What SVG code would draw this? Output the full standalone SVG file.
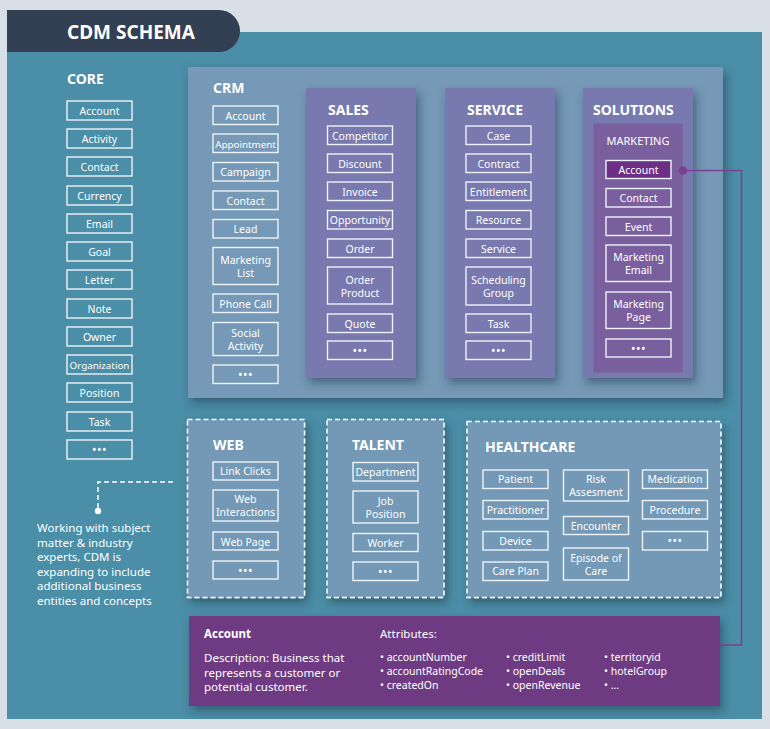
<svg xmlns="http://www.w3.org/2000/svg" width="770" height="729" viewBox="0 0 770 729">
<defs>
<filter id="sh" x="-10%" y="-10%" width="125%" height="125%">
<feDropShadow dx="3" dy="5" stdDeviation="5" flood-color="#1b3a4c" flood-opacity="0.55"/>
</filter>
<style>
text{font-family:"Noto Sans","Open Sans",sans-serif;fill:#ffffff}
.t{font-size:14px;font-weight:bold}
.l{font-size:10.5px;text-anchor:middle}
.s{font-size:9.8px}
.d{font-size:12px;text-anchor:middle;letter-spacing:0.5px}
.b{fill:none;stroke:#eef3f7;stroke-width:1.4}
.dash{fill:#7399b6;stroke:#ffffff;stroke-width:1.5;stroke-dasharray:5 3}
.note{font-size:11.5px}
.attr{font-size:10.5px}
</style>
</defs>
<rect x="0" y="0" width="770" height="729" fill="#d8dfe6"/>
<rect x="7" y="32" width="755" height="687" fill="#4b8ea7"/>
<path d="M7,10 H219 A21,21 0 0 1 219,52 H7 Z" fill="#333f52"/>
<text x="67" y="38.5" style="font-size:19px;font-weight:bold">CDM SCHEMA</text>

<g id="core">
<text class="t" x="67" y="84">CORE</text>
<rect class="b" x="67" y="101" width="65" height="19"/><text class="l" x="99.5" y="114.5">Account</text>
<rect class="b" x="67" y="129" width="65" height="19"/><text class="l" x="99.5" y="142.5">Activity</text>
<rect class="b" x="67" y="157" width="65" height="19"/><text class="l" x="99.5" y="170.5">Contact</text>
<rect class="b" x="67" y="186" width="65" height="19"/><text class="l" x="99.5" y="199.5">Currency</text>
<rect class="b" x="67" y="214" width="65" height="19"/><text class="l" x="99.5" y="227.5">Email</text>
<rect class="b" x="67" y="242" width="65" height="19"/><text class="l" x="99.5" y="255.5">Goal</text>
<rect class="b" x="67" y="270" width="65" height="19"/><text class="l" x="99.5" y="283.5">Letter</text>
<rect class="b" x="67" y="299" width="65" height="19"/><text class="l" x="99.5" y="312.5">Note</text>
<rect class="b" x="67" y="327" width="65" height="19"/><text class="l" x="99.5" y="340.5">Owner</text>
<rect class="b" x="67" y="355" width="65" height="19"/><text class="l s" x="99.5" y="368.5">Organization</text>
<rect class="b" x="67" y="383" width="65" height="19"/><text class="l" x="99.5" y="396.5">Position</text>
<rect class="b" x="67" y="412" width="65" height="19"/><text class="l" x="99.5" y="425.5">Task</text>
<rect class="b" x="67" y="440" width="65" height="19"/><text class="d" x="99.5" y="454">•••</text>
</g>

<g id="crm">
<rect x="188" y="67" width="535" height="331" fill="#7699b7" filter="url(#sh)"/>
<text class="t" x="213" y="93">CRM</text>
<rect class="b" x="213" y="106" width="65" height="18.5"/><text class="l" x="245.5" y="119.5">Account</text>
<rect class="b" x="213" y="134" width="65" height="18.5"/><text class="l s" x="245.5" y="147.5">Appointment</text>
<rect class="b" x="213" y="162.5" width="65" height="18.5"/><text class="l" x="245.5" y="176">Campaign</text>
<rect class="b" x="213" y="191" width="65" height="18.5"/><text class="l" x="245.5" y="204.5">Contact</text>
<rect class="b" x="213" y="219.5" width="65" height="18.5"/><text class="l" x="245.5" y="233">Lead</text>
<rect class="b" x="213" y="247.5" width="65" height="37"/><text class="l" x="245.5" y="264">Marketing</text><text class="l" x="245.5" y="277">List</text>
<rect class="b" x="213" y="294" width="65" height="18.5"/><text class="l" x="245.5" y="307.5">Phone Call</text>
<rect class="b" x="213" y="322.5" width="65" height="33"/><text class="l" x="245.5" y="336.5">Social</text><text class="l" x="245.5" y="349.5">Activity</text>
<rect class="b" x="213" y="365" width="65" height="18.5"/><text class="d" x="245.5" y="379">•••</text>
</g>

<g id="sales">
<rect x="306" y="88" width="110" height="290" fill="#7879ae" filter="url(#sh)"/>
<text class="t" x="328" y="115">SALES</text>
<rect class="b" x="327.5" y="126" width="65" height="18.5"/><text class="l" x="360" y="139.5">Competitor</text>
<rect class="b" x="327.5" y="154" width="65" height="18.5"/><text class="l" x="360" y="167.5">Discount</text>
<rect class="b" x="327.5" y="182" width="65" height="18.5"/><text class="l" x="360" y="195.5">Invoice</text>
<rect class="b" x="327.5" y="210.5" width="65" height="18.5"/><text class="l" x="360" y="224">Opportunity</text>
<rect class="b" x="327.5" y="239" width="65" height="18.5"/><text class="l" x="360" y="252.5">Order</text>
<rect class="b" x="327.5" y="267" width="65" height="37"/><text class="l" x="360" y="283.5">Order</text><text class="l" x="360" y="296.5">Product</text>
<rect class="b" x="327.5" y="314" width="65" height="18.5"/><text class="l" x="360" y="327.5">Quote</text>
<rect class="b" x="327.5" y="341" width="65" height="18.5"/><text class="d" x="360" y="355">•••</text>
</g>

<g id="service">
<rect x="445" y="88" width="110" height="290" fill="#7879ae" filter="url(#sh)"/>
<text class="t" x="467" y="115">SERVICE</text>
<rect class="b" x="466" y="126" width="65" height="18.5"/><text class="l" x="498.5" y="139.5">Case</text>
<rect class="b" x="466" y="154" width="65" height="18.5"/><text class="l" x="498.5" y="167.5">Contract</text>
<rect class="b" x="466" y="182" width="65" height="18.5"/><text class="l" x="498.5" y="195.5">Entitlement</text>
<rect class="b" x="466" y="210.5" width="65" height="18.5"/><text class="l" x="498.5" y="224">Resource</text>
<rect class="b" x="466" y="239" width="65" height="18.5"/><text class="l" x="498.5" y="252.5">Service</text>
<rect class="b" x="466" y="267" width="65" height="38"/><text class="l" x="498.5" y="283.5">Scheduling</text><text class="l" x="498.5" y="296.5">Group</text>
<rect class="b" x="466" y="314" width="65" height="18.5"/><text class="l" x="498.5" y="327.5">Task</text>
<rect class="b" x="466" y="341" width="65" height="18.5"/><text class="d" x="498.5" y="355">•••</text>
</g>

<g id="solutions">
<rect x="583" y="88" width="110" height="290" fill="#7879ae" filter="url(#sh)"/>
<text class="t" x="593" y="115">SOLUTIONS</text>
<rect x="593.5" y="123.5" width="89" height="249" fill="#795f9d"/>
<text x="638" y="145" style="font-size:11px;text-anchor:middle">MARKETING</text>
<rect x="606" y="160.5" width="65" height="18" fill="#6b2f86" stroke="#eef3f7" stroke-width="1.4"/><text class="l" x="638.5" y="173.5">Account</text>
<rect class="b" x="606" y="188.5" width="65" height="18.5"/><text class="l" x="638.5" y="202">Contact</text>
<rect class="b" x="606" y="217" width="65" height="18.5"/><text class="l" x="638.5" y="230.5">Event</text>
<rect class="b" x="606" y="245" width="65" height="36.5"/><text class="l" x="638.5" y="261">Marketing</text><text class="l" x="638.5" y="274">Email</text>
<rect class="b" x="606" y="292" width="65" height="36.5"/><text class="l" x="638.5" y="308">Marketing</text><text class="l" x="638.5" y="321">Page</text>
<rect class="b" x="606" y="339" width="65" height="18"/><text class="d" x="638.5" y="352.5">•••</text>
</g>

<g id="web">
<rect class="dash" x="187.5" y="419.5" width="117" height="178" filter="url(#sh)"/>
<text class="t" x="213" y="450">WEB</text>
<rect class="b" x="213" y="462" width="65" height="18"/><text class="l" x="245.5" y="475">Link Clicks</text>
<rect class="b" x="213" y="490" width="65" height="31"/><text class="l" x="245.5" y="503">Web</text><text class="l" x="245.5" y="516">Interactions</text>
<rect class="b" x="213" y="532" width="65" height="18"/><text class="l" x="245.5" y="545.5">Web Page</text>
<rect class="b" x="213" y="561" width="65" height="18"/><text class="d" x="245.5" y="574.5">•••</text>
</g>

<g id="talent">
<rect class="dash" x="327" y="419.5" width="117" height="178" filter="url(#sh)"/>
<text class="t" x="352" y="450">TALENT</text>
<rect class="b" x="353" y="462.5" width="65" height="18.5"/><text class="l" x="385.5" y="475.5">Department</text>
<rect class="b" x="353" y="491" width="65" height="32"/><text class="l" x="385.5" y="504.5">Job</text><text class="l" x="385.5" y="517.5">Position</text>
<rect class="b" x="353" y="533.5" width="65" height="18"/><text class="l" x="385.5" y="546.5">Worker</text>
<rect class="b" x="353" y="562" width="65" height="18.5"/><text class="d" x="385.5" y="576">•••</text>
</g>

<g id="healthcare">
<rect class="dash" x="467" y="421.5" width="254" height="176" filter="url(#sh)"/>
<text class="t" x="485" y="452">HEALTHCARE</text>
<rect class="b" x="483" y="470" width="65" height="18.5"/><text class="l" x="515.5" y="483">Patient</text>
<rect class="b" x="483" y="500.5" width="65" height="18.5"/><text class="l" x="515.5" y="513.5">Practitioner</text>
<rect class="b" x="483" y="531.5" width="65" height="18.5"/><text class="l" x="515.5" y="544.5">Device</text>
<rect class="b" x="483" y="562" width="65" height="18.5"/><text class="l" x="515.5" y="575">Care Plan</text>
<rect class="b" x="563.5" y="470" width="65" height="31"/><text class="l" x="596" y="482.5">Risk</text><text class="l" x="596" y="495.5">Assesment</text>
<rect class="b" x="563.5" y="516.5" width="65" height="18"/><text class="l" x="596" y="529.5">Encounter</text>
<rect class="b" x="563.5" y="548" width="65" height="32"/><text class="l" x="596" y="561.5">Episode of</text><text class="l" x="596" y="574.5">Care</text>
<rect class="b" x="642.5" y="470" width="65" height="18.5"/><text class="l" x="675" y="483">Medication</text>
<rect class="b" x="642.5" y="500.5" width="65" height="18.5"/><text class="l" x="675" y="513.5">Procedure</text>
<rect class="b" x="642.5" y="531.5" width="65" height="18.5"/><text class="d" x="675" y="545">•••</text>
</g>

<g id="note">
<text class="note" x="37" y="532">Working with subject</text>
<text class="note" x="37" y="546.5">matter &amp; industry</text>
<text class="note" x="37" y="561">experts, CDM is</text>
<text class="note" x="37" y="575.5">expanding to include</text>
<text class="note" x="37" y="590">additional business</text>
<text class="note" x="37" y="604.5">entities and concepts</text>
</g>

<g id="account-detail">
<rect x="189" y="616" width="531" height="90" fill="#6e3b82" filter="url(#sh)"/>
<text x="204" y="638" style="font-size:11.5px;font-weight:bold">Account</text>
<text class="note" x="204" y="662">Description: Business that</text>
<text class="note" x="204" y="676.5">represents a customer or</text>
<text class="note" x="204" y="691">potential customer.</text>
<text class="note" x="380" y="638">Attributes:</text>
<text class="attr" x="380" y="661">• accountNumber</text>
<text class="attr" x="380" y="675">• accountRatingCode</text>
<text class="attr" x="380" y="688.5">• createdOn</text>
<text class="attr" x="506" y="661">• creditLimit</text>
<text class="attr" x="506" y="675">• openDeals</text>
<text class="attr" x="506" y="688.5">• openRevenue</text>
<text class="attr" x="604" y="661">• territoryid</text>
<text class="attr" x="604" y="675">• hotelGroup</text>
<text class="attr" x="604" y="688.5">• ...</text>
</g>

<g id="connectors">
<path d="M173,482 H98 V510" fill="none" stroke="#ffffff" stroke-width="1.5" stroke-dasharray="5 3"/>
<circle cx="98" cy="511" r="3.2" fill="#ffffff"/>
<path d="M683,170.5 H741.5 V645 H720" fill="none" stroke="#7d3f8f" stroke-width="1.5"/>
<circle cx="683" cy="170.5" r="4.2" fill="#7d3f8f"/>
</g>
</svg>
